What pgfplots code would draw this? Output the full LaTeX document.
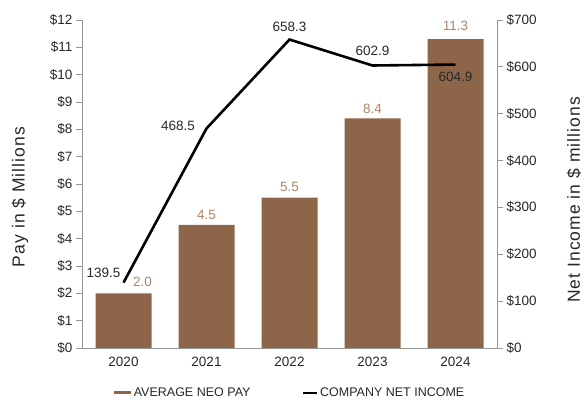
\documentclass[border=0pt]{standalone}
\usepackage{fontspec}
\setmainfont{Liberation Sans}
\usepackage{pgfplots}
\pgfplotsset{compat=1.18}
\definecolor{barbrown}{RGB}{141,101,72}
\definecolor{bartxt}{RGB}{172,134,104}
\definecolor{axgray}{RGB}{150,150,150}
\definecolor{txt}{RGB}{40,40,40}
\begin{document}
\begin{tikzpicture}
\begin{axis}[
  scale only axis, width=415pt, height=328pt,
  xmin=-0.5, xmax=4.5, ymin=0, ymax=12,
  axis y line*=left, axis x line*=bottom,
  xtick={0,1,2,3,4}, xticklabels={2020,2021,2022,2023,2024},
  ytick={0,1,...,12}, yticklabel={\$\pgfmathprintnumber{\tick}},
  tick align=outside, major tick length=6pt,
  x tick style={draw=none},
  axis line style={axgray, line width=0.8pt},
  y tick style={axgray, line width=0.8pt},
  ticklabel style={font=\fontsize{13.5}{15}\selectfont, text=txt},
  /pgf/number format/assume math mode=true,
  clip=false,
]
\addplot[ybar, bar width=56pt, fill=barbrown, draw=none] coordinates {(0,2.0) (1,4.5) (2,5.5) (3,8.4) (4,11.3)};
\begin{scope}[font=\fontsize{13.5}{15}\selectfont, text=bartxt]
\node at (axis cs:0,2.0) [xshift=19pt, yshift=11pt] {2.0};
\node at (axis cs:1,4.5) [yshift=10pt] {4.5};
\node at (axis cs:2,5.5) [yshift=11pt] {5.5};
\node at (axis cs:3,8.4) [yshift=10pt] {8.4};
\node at (axis cs:4,11.3) [yshift=13pt] {11.3};
\end{scope}
\end{axis}
\begin{axis}[
  scale only axis, width=415pt, height=328pt,
  xmin=-0.5, xmax=4.5, ymin=0, ymax=700,
  axis y line*=right, axis x line=none,
  ytick={0,100,...,700}, yticklabel={\$\pgfmathprintnumber{\tick}},
  tick align=outside, major tick length=6pt,
  axis line style={axgray, line width=0.8pt},
  y tick style={axgray, line width=0.8pt},
  ticklabel style={font=\fontsize{13.5}{15}\selectfont, text=txt},
  /pgf/number format/assume math mode=true,
  clip=false,
  legend style={at={(0.499,-0.137)}, anchor=center, draw=none, fill=none,
    legend columns=2, font=\fontsize{12.5}{13}\selectfont, text=txt,
    /tikz/every even column/.append style={column sep=50pt},
    nodes={inner sep=1.5pt}},
  legend cell align=left,
]
\addlegendimage{barbrown, line width=3pt, legend image code/.code={\draw (0pt,0pt) -- (17pt,0pt);}}
\addlegendentry{AVERAGE NEO PAY}
\addplot[black, line width=2.6pt, line join=miter] coordinates {(0,139.5) (1,468.5) (2,658.3) (3,602.9) (4,604.9)};
\addlegendentry{COMPANY NET INCOME}
\pgfplotsset{legend image code/.code={\draw (0pt,0pt) -- (14pt,0pt);}}
\begin{scope}[font=\fontsize{13.5}{15}\selectfont, text=txt]
\node at (axis cs:0,139.5) [xshift=-20pt, yshift=10pt] {139.5};
\node at (axis cs:1,468.5) [anchor=east, xshift=-8pt, yshift=3pt] {468.5};
\node at (axis cs:2,658.3) [yshift=13pt] {658.3};
\node at (axis cs:3,602.9) [yshift=15pt] {602.9};
\node at (axis cs:4,604.9) [yshift=-12pt] {604.9};
\end{scope}
\end{axis}
\node[rotate=90, font=\fontsize{17.5}{19}\selectfont\addfontfeatures{LetterSpace=6}, text=txt] at (-62pt,151pt) {Pay in \$ Millions};
\node[rotate=90, font=\fontsize{17.5}{19}\selectfont\addfontfeatures{LetterSpace=6}, text=txt] at (492pt,148pt) {Net Income in \$ millions};
\pgfresetboundingbox
\path[use as bounding box] (-82pt,-53pt) rectangle (501pt,348pt);
\end{tikzpicture}
\end{document}
